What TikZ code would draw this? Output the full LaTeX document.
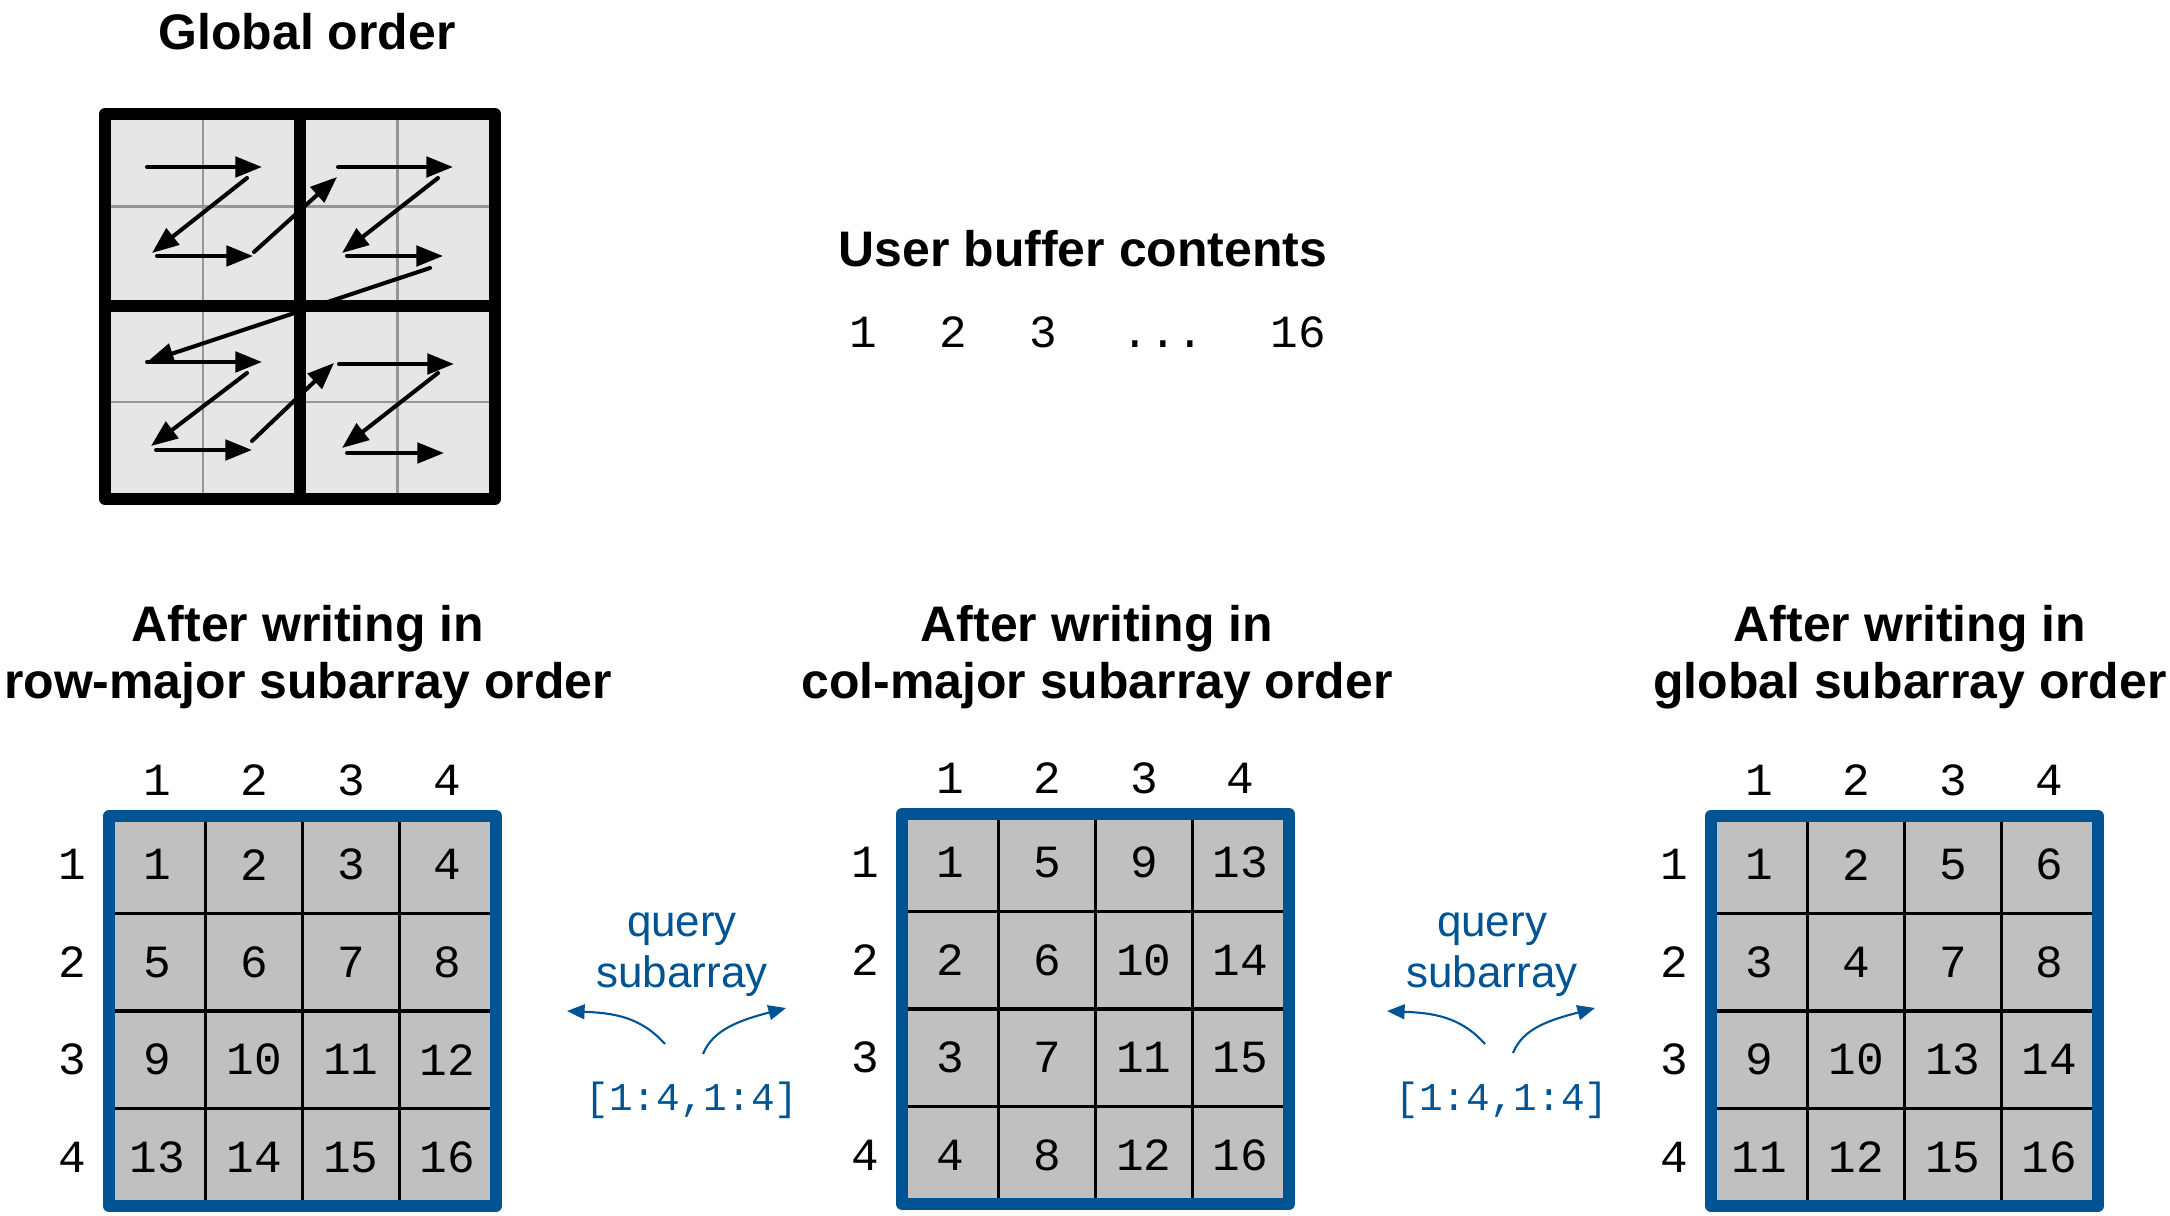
\documentclass[tikz,border=0pt]{standalone}
\usepackage{fontspec}
\setmainfont{Liberation Sans}
\setmonofont{Liberation Mono}
\usepackage{tikz}
\usetikzlibrary{arrows.meta}

\definecolor{qblue}{RGB}{0,84,147}
\definecolor{zfill}{RGB}{230,230,230}
\definecolor{zline}{RGB}{150,150,150}
\definecolor{cellfill}{RGB}{192,192,192}

\tikzset{
  title/.style={font=\bfseries\fontsize{14.2}{16.2}\selectfont, align=center, inner sep=0pt},
  num/.style={font=\ttfamily\fontsize{13.1}{16}\selectfont, inner sep=0pt},
  querytext/.style={font=\fontsize{12.5}{14.4}\selectfont, text=qblue, align=center, inner sep=0pt},
  rangetext/.style={font=\ttfamily\fontsize{11.2}{14}\selectfont, text=qblue, inner sep=0pt},
  zarrow/.style={line width=1.15pt, line cap=round, -{Triangle[length=7.6pt, width=5.8pt]}},
  qarrow/.style={qblue, line width=0.6pt, -{Triangle[length=5pt, width=4.2pt]}},
  outline/.style={draw=qblue, line width=3.4pt, line join=round},
  cellline/.style={line width=0.95pt},
}

% one 4x4 result grid: #1 name, #2 left, #3 top, #4 rows
\newcommand{\numgrid}[4]{%
  \begin{scope}[shift={(#2,#3)}]
    \fill[cellfill] (0,0) rectangle (387,390);
    \foreach \k in {1,2,3}
      \draw[cellline] (\k*96.75,0) -- (\k*96.75,390) (0,\k*97.5) -- (387,\k*97.5);
    \draw[outline] (0,0) rectangle (387,390);
    \foreach \k in {1,...,4} {
      \node[num] (#1-c\k) at (\k*96.75-48.4,-36) {\k};
      \node[num] (#1-r\k) at (-37,\k*97.5-48.75) {\k};
    }
    \foreach \a/\b/\c/\d [count=\r] in {#4} {
      \node[num] (#1-\r-1) at (48.4,\r*97.5-48.75) {\a};
      \node[num] (#1-\r-2) at (145.1,\r*97.5-48.75) {\b};
      \node[num] (#1-\r-3) at (241.9,\r*97.5-48.75) {\c};
      \node[num] (#1-\r-4) at (338.6,\r*97.5-48.75) {\d};
    }
  \end{scope}%
}

\begin{document}
\begin{tikzpicture}[x=0.01cm, y=-0.01cm]
\useasboundingbox (0,0) rectangle (2170,1216);

% global order
\node[title, anchor=base] (globtitle) at (307,50) {Global order};
\fill[zfill] (105,114) rectangle (495,499);
\draw[zline, line width=0.85pt] (203,114) -- (203,499) (397,114) -- (397,499)
  (105,207) -- (495,207) (105,402) -- (495,402);
\draw[line width=3.4pt, line join=round] (105,114) rectangle (495,499)
  (300,114) -- (300,499) (105,306) -- (495,306);

\draw[zarrow] (147,167) -- (262,167);
\draw[zarrow] (247,178) -- (152,253);
\draw[zarrow] (157,256) -- (253,256);
\draw[zarrow] (254,252) -- (337,177);
\draw[zarrow] (338,167) -- (453,167);
\draw[zarrow] (438,178) -- (342,253);
\draw[zarrow] (347,256) -- (443,256);
\draw[zarrow] (430,268) -- (147,362);
\draw[zarrow] (147,362) -- (262,362);
\draw[zarrow] (247,373) -- (151,446);
\draw[zarrow] (156,450) -- (252,450);
\draw[zarrow] (252,441) -- (334,363);
\draw[zarrow] (339,364) -- (454,364);
\draw[zarrow] (438,373) -- (342,448);
\draw[zarrow] (347,453) -- (444,453);

% user buffer
\node[title, anchor=base] (buftitle) at (1083,267) {User buffer contents};
\node[num, anchor=base] (buf1) at (863,348) {1};
\node[num, anchor=base] (buf2) at (953,348) {2};
\node[num, anchor=base] (buf3) at (1043,348) {3};
\node[num, anchor=base] (bufdots) at (1163,348) {...};
\node[num, anchor=base] (buf16) at (1298,348) {16};

% results
\node[title, anchor=north] (rowtitle) at (308,605) {After writing in\\row-major subarray order};
\node[title, anchor=north] (coltitle) at (1097,605) {After writing in\\col-major subarray order};
\node[title, anchor=north] (globaltitle) at (1910,605) {After writing in\\global subarray order};

\numgrid{rowmaj}{109}{816}{1/2/3/4, 5/6/7/8, 9/10/11/12, 13/14/15/16}
\numgrid{colmaj}{902}{814}{1/5/9/13, 2/6/10/14, 3/7/11/15, 4/8/12/16}
\numgrid{glob}{1711}{816}{1/2/5/6, 3/4/7/8, 9/10/13/14, 11/12/15/16}

% query subarray
\node[querytext, anchor=north] (query1) at (682,912) {query\\subarray};
\node[rangetext, anchor=base] (range1) at (692,1110) {[1:4,1:4]};
\coordinate (q1a) at (665,1044);
\coordinate (q1b) at (567,1011);
\coordinate (q1c) at (703,1054);
\coordinate (q1d) at (786,1008);
\draw[qarrow] (q1a) .. controls +(-25,-28) and +(45,2) .. (q1b);
\draw[qarrow] (q1c) .. controls +(10,-25) and +(-45,12) .. (q1d);

\node[querytext, anchor=north] (query2) at (1492,912) {query\\subarray};
\node[rangetext, anchor=base] (range2) at (1502,1110) {[1:4,1:4]};
\coordinate (q2a) at (1485,1044);
\coordinate (q2b) at (1387,1011);
\coordinate (q2c) at (1513,1053);
\coordinate (q2d) at (1595,1008);
\draw[qarrow] (q2a) .. controls +(-25,-28) and +(45,2) .. (q2b);
\draw[qarrow] (q2c) .. controls +(10,-25) and +(-45,12) .. (q2d);

\end{tikzpicture}
\end{document}
